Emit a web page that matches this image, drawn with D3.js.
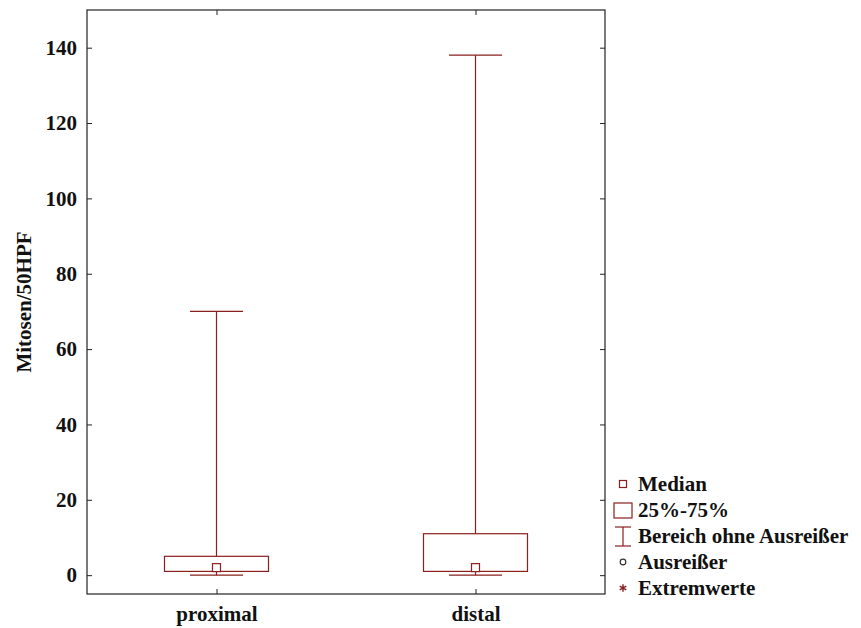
<!DOCTYPE html>
<html>
<head>
<meta charset="utf-8">
<script src="https://cdn.jsdelivr.net/npm/d3@7"></script>
<style>
  body { margin: 0; background: #fff; }
  svg text { font-family: "Liberation Serif", "Times New Roman", serif; font-weight: bold; fill: #111; }
</style>
</head>
<body>
<div id="chart"></div>
<script>
// Daten
const groups = ['proximal', 'distal'];
const mins = [0, 0];
const q1s = [1, 1];
const medians = [2, 2];
const q3s = [5, 11];
const maxs = [70, 138];
const yTicks = [0, 20, 40, 60, 80, 100, 120, 140];
const legendItems = ['Median', '25%-75%', 'Bereich ohne Ausreißer', 'Ausreißer', 'Extremwerte'];

const W = 861, H = 628;
const plot = { left: 87, top: 10, right: 605, bottom: 594 };
const red = '#8b1f1f';
const fs = 21;

const svg = d3.select('#chart').append('svg').attr('width', W).attr('height', H);

const x = d3.scalePoint().domain(groups).range([plot.left, plot.right]).padding(0.5);
const y = d3.scaleLinear().domain([-5, 150]).range([plot.bottom, plot.top]);

// Rahmen
svg.append('rect')
  .attr('x', plot.left).attr('y', plot.top)
  .attr('width', plot.right - plot.left).attr('height', plot.bottom - plot.top)
  .attr('fill', 'none').attr('stroke', '#222').attr('stroke-width', 1.2);

// Achsen (Ticks nach innen)
const yl = svg.append('g').attr('transform', `translate(${plot.left},0)`)
  .call(d3.axisLeft(y).tickValues(yTicks).tickSizeInner(-5).tickSizeOuter(0).tickPadding(10));
const yr = svg.append('g').attr('transform', `translate(${plot.right},0)`)
  .call(d3.axisRight(y).tickValues(yTicks).tickSizeInner(-5).tickSizeOuter(0).tickFormat(''));
const xb = svg.append('g').attr('transform', `translate(0,${plot.bottom})`)
  .call(d3.axisBottom(x).tickSizeInner(-5).tickSizeOuter(0).tickPadding(12));
const xt = svg.append('g').attr('transform', `translate(0,${plot.top})`)
  .call(d3.axisTop(x).tickSizeInner(-5).tickSizeOuter(0).tickFormat(''));
[yl, yr, xb, xt].forEach(g => {
  g.select('.domain').remove();
  g.selectAll('line').attr('stroke', '#222');
  g.selectAll('text').attr('font-size', fs).attr('fill', '#111');
});

// Achsentitel
svg.append('text')
  .attr('transform', `translate(31,${(plot.top + plot.bottom) / 2}) rotate(-90)`)
  .attr('text-anchor', 'middle')
  .attr('font-size', fs)
  .text('Mitosen/50HPF');

// Boxplots
const boxW = 104, capW = 53, medS = 8;
const data = groups.map((g, i) => ({ g, min: mins[i], q1: q1s[i], med: medians[i], q3: q3s[i], max: maxs[i] }));
const bx = svg.append('g').attr('stroke', red).attr('fill', 'none').attr('stroke-width', 1.2);
data.forEach(d => {
  const cx = x(d.g);
  bx.append('line').attr('x1', cx).attr('x2', cx).attr('y1', y(d.max)).attr('y2', y(d.min));
  bx.append('line').attr('x1', cx - capW / 2).attr('x2', cx + capW / 2).attr('y1', y(d.max)).attr('y2', y(d.max));
  bx.append('line').attr('x1', cx - capW / 2).attr('x2', cx + capW / 2).attr('y1', y(d.min)).attr('y2', y(d.min));
  bx.append('rect').attr('x', cx - boxW / 2).attr('width', boxW)
    .attr('y', y(d.q3)).attr('height', y(d.q1) - y(d.q3)).attr('fill', '#fff');
  bx.append('rect').attr('x', cx - medS / 2).attr('y', y(d.med) - medS / 2)
    .attr('width', medS).attr('height', medS).attr('fill', '#fff');
});

// Legende
const lg = svg.append('g');
const lx = 623, ly0 = 484, dy = 26;
legendItems.forEach((t, i) => {
  lg.append('text').attr('x', 638).attr('y', ly0 + i * dy + 7).attr('font-size', fs).text(t);
});
const m = lg.append('g').attr('stroke', red).attr('fill', 'none').attr('stroke-width', 1.2);
m.append('rect').attr('x', lx - 3.5).attr('y', ly0 - 3.5).attr('width', 7).attr('height', 7);
m.append('rect').attr('x', lx - 9).attr('y', ly0 + dy - 7).attr('width', 18).attr('height', 15);
m.append('line').attr('x1', lx).attr('x2', lx).attr('y1', ly0 + 2 * dy - 9).attr('y2', ly0 + 2 * dy + 10);
m.append('line').attr('x1', lx - 8).attr('x2', lx + 8).attr('y1', ly0 + 2 * dy - 9).attr('y2', ly0 + 2 * dy - 9);
m.append('line').attr('x1', lx - 8).attr('x2', lx + 8).attr('y1', ly0 + 2 * dy + 10).attr('y2', ly0 + 2 * dy + 10);
m.append('circle').attr('cx', lx).attr('cy', ly0 + 3 * dy).attr('r', 2.8).attr('stroke', '#333');
lg.append('path')
  .attr('transform', `translate(${lx},${ly0 + 4 * dy})`)
  .attr('d', d3.symbol(d3.symbolAsterisk, 40)())
  .attr('stroke', red).attr('stroke-width', 1.4).attr('fill', 'none');
</script>
</body>
</html>
